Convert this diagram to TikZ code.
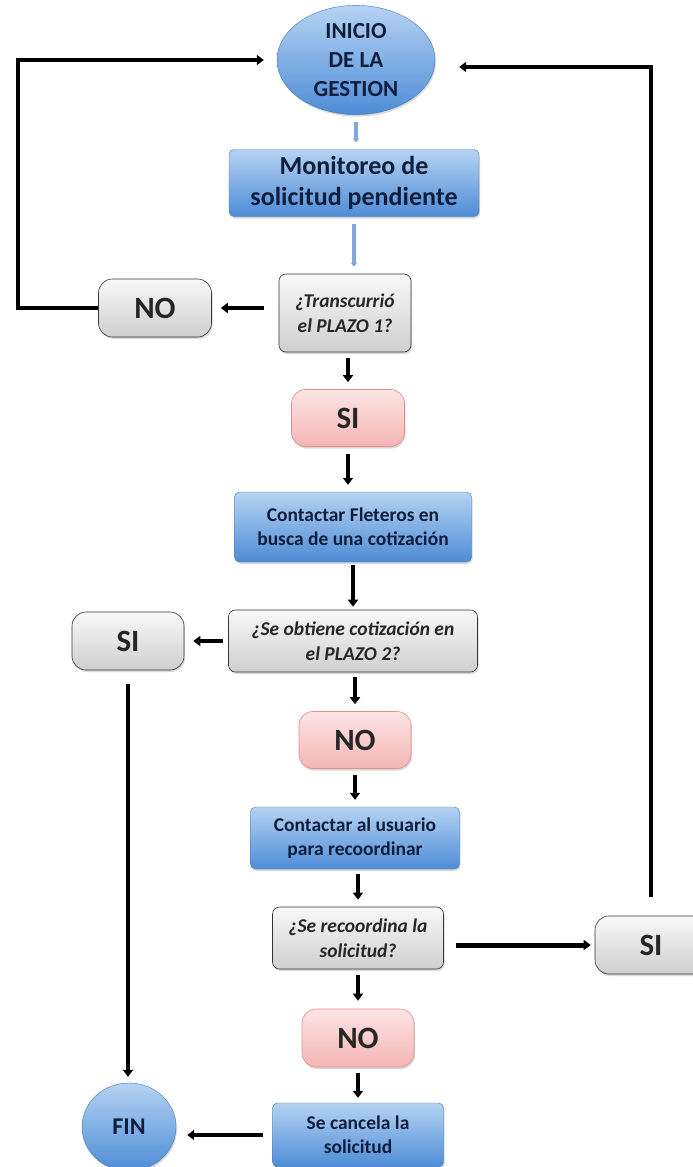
\documentclass[tikz,border=0pt]{standalone}
\usepackage{fontspec}
\setmainfont{Carlito}
\usepackage{xcolor}
\usepackage{tikz}
\usetikzlibrary{arrows.meta,positioning,shapes.geometric,shadows}

\definecolor{navy}{HTML}{0F1E3C}
\definecolor{bluetop}{HTML}{B5D3F3}
\definecolor{bluebot}{HTML}{4E8CD6}
\definecolor{graytop}{HTML}{F8F8F8}
\definecolor{graybot}{HTML}{CFCFCF}
\definecolor{pinktop}{HTML}{FDE4E4}
\definecolor{pinkbot}{HTML}{F5B5B5}
\definecolor{pinkline}{HTML}{E28C8C}
\definecolor{flowlight}{HTML}{7EA9D8}

\newcommand{\fsz}[2]{\fontsize{#1}{#2}\selectfont}

\begin{document}
\begin{tikzpicture}[x=1pt, y=-1pt,
  blk/.style={rectangle, rounded corners=5pt, top color=bluetop, bottom color=bluebot,
              draw=bluebot!85!black, thin, text=navy, align=center, inner sep=2pt,
              font=\fsz{19.5}{24}\bfseries,
              drop shadow={opacity=0.3, shadow xshift=1pt, shadow yshift=-2pt}},
  term/.style={blk, ellipse},
  ask/.style={rectangle, rounded corners=7pt, top color=graytop, bottom color=graybot,
              draw=black!80, semithick, text=black!85, align=center, inner sep=2pt,
              font=\fsz{19.5}{25}\bfseries\itshape,
              drop shadow={opacity=0.3, shadow xshift=1pt, shadow yshift=-2pt}},
  ans/.style={ask, rounded corners=14pt, font=\fsz{31}{32}\bfseries},
  hot/.style={ans, top color=pinktop, bottom color=pinkbot, draw=pinkline},
  go/.style={-{Triangle[length=7pt,width=10pt]}, line width=4pt},
  soft/.style={-{Triangle[length=4pt,width=6pt]}, line width=3.5pt, flowlight,
               shorten <=7pt, shorten >=7pt},
  ret/.style={-{Triangle[length=7pt,width=10pt]}, line width=3.5pt}
]
  \useasboundingbox (0,0) rectangle (693,1167);

  % main column
  \node[term, minimum width=158pt, minimum height=100pt, font=\fsz{23}{29}\bfseries]
       (start) at (356,60) {INICIO\\DE LA\\GESTION};
  \node[blk, minimum width=250pt, minimum height=67pt, font=\fsz{26}{31}\bfseries]
       (watch) at (354,183) {Monitoreo de\\solicitud pendiente};
  \node[ask, minimum width=132pt, minimum height=78pt] (plazoA) at (345,313) {¿Transcurrió\\el PLAZO 1?};
  \node[hot, minimum width=113pt, minimum height=57pt] (siA) at (348,418) {SI};
  \node[blk, minimum width=237pt, minimum height=70pt] (fleteros) at (353,527) {Contactar Fleteros en\\busca de una cotización};
  \node[ask, minimum width=249pt, minimum height=62pt] (plazoB) at (353,641) {¿Se obtiene cotización en\\el PLAZO 2?};
  \node[hot, minimum width=112pt, minimum height=57pt] (noB) at (355,740) {NO};
  \node[blk, minimum width=209pt, minimum height=62pt] (usuario) at (355,838) {Contactar al usuario\\para recoordinar};
  \node[ask, minimum width=171pt, minimum height=62pt] (recoord) at (358,938) {¿Se recoordina la\\solicitud?};
  \node[hot, minimum width=112pt, minimum height=58pt] (noC) at (358,1038) {NO};
  \node[blk, minimum width=171pt, minimum height=64pt] (cancela) at (358,1135) {Se cancela la\\solicitud};

  % side answers
  \node[ans, minimum width=113pt, minimum height=58pt] (noA) at (155,308) {NO};
  \node[ans, minimum width=112pt, minimum height=58pt] (siB) at (128,641) {SI};
  \node[ans, minimum width=112pt, minimum height=58pt] (siC) at (651,945) {SI};
  \node[term, minimum width=94pt, minimum height=88pt, font=\fsz{24}{26}\bfseries] (fin) at (129,1127) {FIN};

  % light arrows
  \draw[soft] (start.south) -- (start.south |- watch.north);
  \draw[soft] (watch.south) -- (watch.south |- plazoA.north);

  % down arrows
  \draw[go, shorten <=6pt, shorten >=7pt] (plazoA.south -| siA.north) -- (siA.north);
  \draw[go, shorten <=7pt, shorten >=7pt] (siA.south) -- (siA.south |- fleteros.north);
  \draw[go, shorten <=3pt, shorten >=3pt] (fleteros.south) -- (fleteros.south |- plazoB.north);
  \draw[go, shorten <=5pt, shorten >=7pt] (plazoB.south -| noB.north) -- (noB.north);
  \draw[go, shorten <=6pt, shorten >=7pt] (noB.south) -- (noB.south |- usuario.north);
  \draw[go, shorten <=5pt, shorten >=7pt] (usuario.south -| recoord.north) -- (recoord.north);
  \draw[go, shorten <=6pt, shorten >=8pt] (recoord.south) -- (noC.north);
  \draw[go, shorten <=6pt, shorten >=5pt] (noC.south) -- (cancela.north);

  % side arrows
  \draw[go, shorten <=15pt, shorten >=9pt] (plazoA.west |- noA.east) -- (noA.east);
  \draw[go, shorten <=5pt, shorten >=9pt] (plazoB.west) -- (siB.east);
  \draw[go, line width=5pt, shorten <=12pt, shorten >=4pt] (recoord.east |- siC.west) -- (siC.west);
  \draw[go, shorten <=9pt, shorten >=11pt] (cancela.west) -- (cancela.west -| fin.east);
  \draw[go, shorten <=14pt, shorten >=6pt] (siB.south) -- (siB.south |- fin.north);

  % return lines
  \draw[ret, shorten >=13pt] (noA.west) -- ++(-80,0) |- (start.west);
  \draw[ret, shorten <=19pt, shorten >=24pt] (siC.north) |- ([yshift=-7pt]start.east);
\end{tikzpicture}
\end{document}
